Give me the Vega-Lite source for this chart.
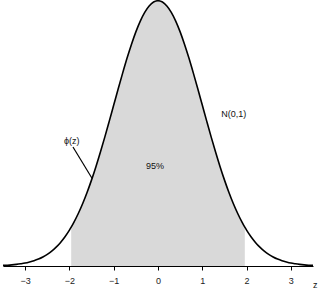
{
  "$schema": "https://vega.github.io/schema/vega-lite/v6.json",
  "width": 310,
  "height": 266,
  "autosize": {"type": "none"},
  "padding": {"left": 3, "top": 0, "right": 7, "bottom": 23},
  "background": "white",
  "config": {"view": {"stroke": null}, "font": "Liberation Sans"},
  "datasets": {
    "curve": [
      {"z": -3.5, "p": 0.0009}, {"z": -3.4, "p": 0.0012}, {"z": -3.3, "p": 0.0017}, {"z": -3.2, "p": 0.0024},
      {"z": -3.1, "p": 0.0033}, {"z": -3.0, "p": 0.0044}, {"z": -2.9, "p": 0.0060}, {"z": -2.8, "p": 0.0079},
      {"z": -2.7, "p": 0.0104}, {"z": -2.6, "p": 0.0136}, {"z": -2.5, "p": 0.0175}, {"z": -2.4, "p": 0.0224},
      {"z": -2.3, "p": 0.0283}, {"z": -2.2, "p": 0.0355}, {"z": -2.1, "p": 0.0440}, {"z": -2.0, "p": 0.0540},
      {"z": -1.96, "p": 0.0584},
      {"z": -1.9, "p": 0.0656}, {"z": -1.8, "p": 0.0790}, {"z": -1.7, "p": 0.0940}, {"z": -1.6, "p": 0.1109},
      {"z": -1.5, "p": 0.1295}, {"z": -1.4, "p": 0.1497}, {"z": -1.3, "p": 0.1714}, {"z": -1.2, "p": 0.1942},
      {"z": -1.1, "p": 0.2179}, {"z": -1.0, "p": 0.2420}, {"z": -0.9, "p": 0.2661}, {"z": -0.8, "p": 0.2897},
      {"z": -0.7, "p": 0.3123}, {"z": -0.6, "p": 0.3332}, {"z": -0.5, "p": 0.3521}, {"z": -0.4, "p": 0.3683},
      {"z": -0.3, "p": 0.3814}, {"z": -0.2, "p": 0.3910}, {"z": -0.1, "p": 0.3970}, {"z": 0.0, "p": 0.3989},
      {"z": 0.1, "p": 0.3970}, {"z": 0.2, "p": 0.3910}, {"z": 0.3, "p": 0.3814}, {"z": 0.4, "p": 0.3683},
      {"z": 0.5, "p": 0.3521}, {"z": 0.6, "p": 0.3332}, {"z": 0.7, "p": 0.3123}, {"z": 0.8, "p": 0.2897},
      {"z": 0.9, "p": 0.2661}, {"z": 1.0, "p": 0.2420}, {"z": 1.1, "p": 0.2179}, {"z": 1.2, "p": 0.1942},
      {"z": 1.3, "p": 0.1714}, {"z": 1.4, "p": 0.1497}, {"z": 1.5, "p": 0.1295}, {"z": 1.6, "p": 0.1109},
      {"z": 1.7, "p": 0.0940}, {"z": 1.8, "p": 0.0790}, {"z": 1.9, "p": 0.0656},
      {"z": 1.96, "p": 0.0584},
      {"z": 2.0, "p": 0.0540}, {"z": 2.1, "p": 0.0440}, {"z": 2.2, "p": 0.0355}, {"z": 2.3, "p": 0.0283},
      {"z": 2.4, "p": 0.0224}, {"z": 2.5, "p": 0.0175}, {"z": 2.6, "p": 0.0136}, {"z": 2.7, "p": 0.0104},
      {"z": 2.8, "p": 0.0079}, {"z": 2.9, "p": 0.0060}, {"z": 3.0, "p": 0.0044}, {"z": 3.1, "p": 0.0033},
      {"z": 3.2, "p": 0.0024}, {"z": 3.3, "p": 0.0017}, {"z": 3.4, "p": 0.0012}, {"z": 3.5, "p": 0.0009}
    ],
    "labels": [
      {"z": -1.95, "p": 0.188, "text": "ϕ(z)", "style": "italic"},
      {"z": -0.07, "p": 0.150, "text": "95%", "style": "normal"},
      {"z": 1.71, "p": 0.2286, "text": "N(0,1)", "style": "normal"},
      {"z": 3.55, "p": -0.0283, "text": "z", "style": "italic"}
    ],
    "leader": [
      {"z": -1.92, "p": 0.179, "z2": -1.49, "p2": 0.1320}
    ]
  },
  "layer": [
    {
      "data": {"name": "curve"},
      "transform": [{"filter": "datum.z >= -1.96 && datum.z <= 1.96"}],
      "mark": {"type": "area", "color": "#d9d9d9", "interpolate": "monotone"},
      "encoding": {
        "x": {"field": "z", "type": "quantitative", "scale": {"domain": [-3.5, 3.5], "nice": false},
          "axis": {"values": [-3, -2, -1, 0, 1, 2, 3], "title": null, "grid": false,
            "domainColor": "black", "domainWidth": 1.2, "tickColor": "black", "tickSize": 4,
            "labelFont": "Liberation Sans", "labelFontSize": 9, "labelColor": "#222", "labelPadding": 6}},
        "y": {"field": "p", "type": "quantitative", "scale": {"domain": [0, 0.4], "nice": false}, "axis": null}
      }
    },
    {
      "data": {"name": "curve"},
      "mark": {"type": "line", "color": "black", "strokeWidth": 1.6, "interpolate": "monotone"},
      "encoding": {
        "x": {"field": "z", "type": "quantitative"},
        "y": {"field": "p", "type": "quantitative"}
      }
    },
    {
      "data": {"name": "leader"},
      "mark": {"type": "rule", "color": "black", "strokeWidth": 1.2},
      "encoding": {
        "x": {"field": "z", "type": "quantitative"},
        "y": {"field": "p", "type": "quantitative"},
        "x2": {"field": "z2"},
        "y2": {"field": "p2"}
      }
    },
    {
      "data": {"name": "labels"},
      "mark": {"type": "text", "fontSize": 9, "color": "#111", "font": "Liberation Sans", "clip": false},
      "encoding": {
        "x": {"field": "z", "type": "quantitative"},
        "y": {"field": "p", "type": "quantitative"},
        "text": {"field": "text"},
        "fontStyle": {"field": "style", "type": "nominal", "scale": null}
      }
    }
  ]
}
